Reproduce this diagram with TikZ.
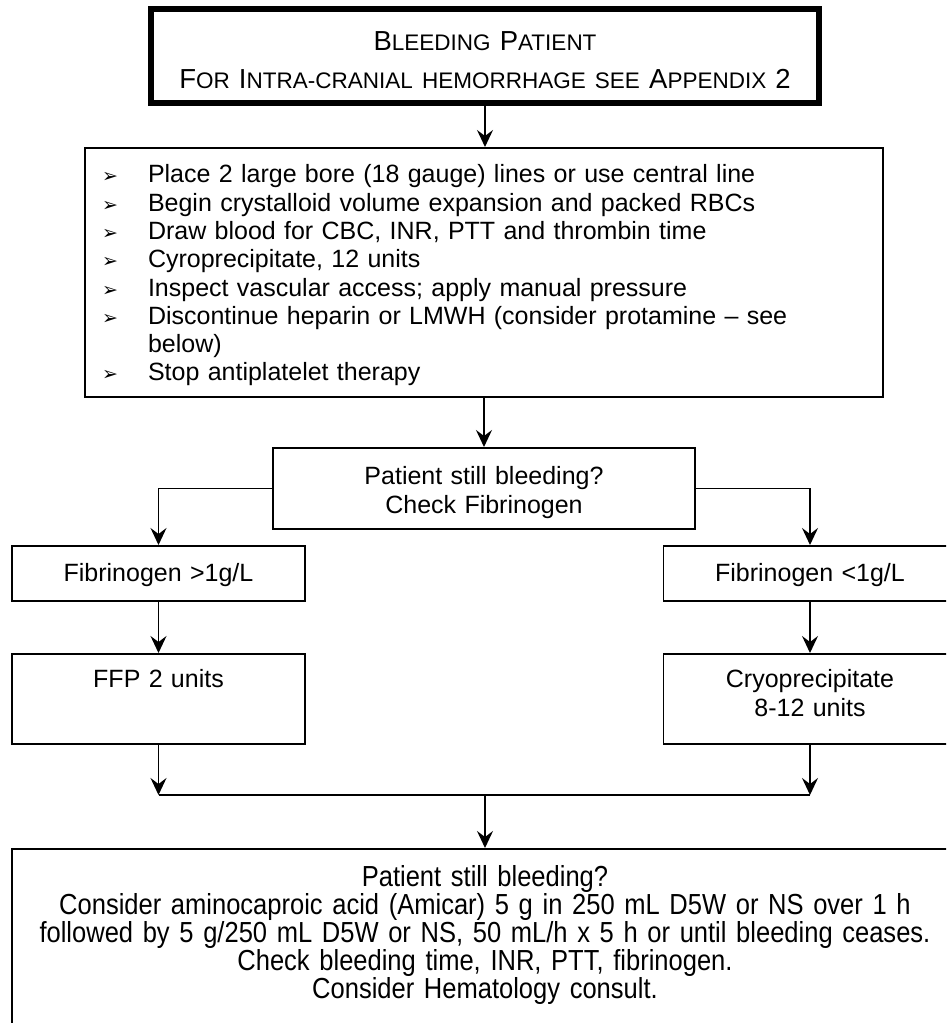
\documentclass[tikz,border=0pt]{standalone}
\usepackage{fontspec}
\setmainfont{Liberation Sans}
\newfontfamily\narrowsans[FakeStretch=0.88]{Liberation Sans}
\newfontfamily\dingfont{DejaVu Sans}
\usetikzlibrary{arrows.meta}
\lineskiplimit=-8pt
\newcommand{\smcap}[1]{{\fontsize{22.5}{24}\selectfont #1}}
\newcommand{\itm}{\makebox[63pt][l]{\hspace*{17pt}{\dingfont\fontsize{19}{19}\selectfont ➢}}}

\begin{document}
\begin{tikzpicture}[x=1pt,y=-1pt,
  box/.style={draw,line width=1.6pt,inner sep=0pt,anchor=north,align=center,font=\fontsize{25}{28.3}\selectfont},
  arr/.style={line width=1.3pt,-{Stealth[length=17pt,width=16pt,inset=6pt]}}]
  \useasboundingbox (0,0) rectangle (946,1023);
  \clip (0,0) rectangle (946,1023);
  \node[box,line width=5.5pt,text width=668pt,text height=42pt,text depth=52pt,font=\fontsize{27.5}{38}\selectfont] (start) at (485,6)
    {B\smcap{LEEDING} P\smcap{ATIENT}\\F\smcap{OR} I\smcap{NTRA-CRANIAL HEMORRHAGE SEE} A\smcap{PPENDIX} 2};
  \node[box,align=left,text width=798pt,text height=35pt,text depth=214pt] (list) at (484,147)
    {\itm Place 2 large bore (18 gauge) lines or use central line\\
     \itm Begin crystalloid volume expansion and packed RBCs\\
     \itm Draw blood for CBC, INR, PTT and thrombin time\\
     \itm Cyroprecipitate, 12 units\\
     \itm Inspect vascular access; apply manual pressure\\
     \itm Discontinue heparin or LMWH (consider protamine – see\\
     \hspace*{63pt}below)\\
     \itm Stop antiplatelet therapy};
  \node[box,text width=422pt,text height=37pt,text depth=44pt] (check) at (484,447)
    {Patient still bleeding?\\Check Fibrinogen};
  \node[box,text width=293pt,text height=36pt,text depth=19pt] (fibhi) at (158.5,545) {Fibrinogen >1g/L};
  \node[box,text width=293pt,text height=36pt,text depth=19pt] (fiblo) at (810,545) {Fibrinogen <1g/L};
  \node[box,text width=293pt,text height=34pt,text depth=56pt] (ffp) at (158.5,653) {FFP 2 units};
  \node[box,text width=293pt,text height=34pt,text depth=56pt] (cryo) at (810,653) {Cryoprecipitate\\8-12 units};
  \node[box,text width=946pt,text height=38pt,text depth=200pt,font=\narrowsans\fontsize{29}{27}\selectfont] (final) at (485,848)
    {Patient still bleeding?\\
     Consider aminocaproic acid (Amicar) 5 g in 250 mL D5W or NS over 1 h\\
     followed by 5 g/250 mL D5W or NS, 50 mL/h x 5 h or until bleeding ceases.\\
     Check bleeding time, INR, PTT, fibrinogen.\\
     Consider Hematology consult.};
  \coordinate (joinL) at (158.5,795);
  \coordinate (joinR) at (810,795);
  \coordinate (join) at (485,795);
  \draw[arr] (start.south) -- (start.south |- list.north);
  \draw[arr] (list.south) -- (check.north);
  \draw[arr] (check.west) -| (fibhi.north);
  \draw[arr] (check.east) -| (fiblo.north);
  \draw[arr] (fibhi) -- (ffp);
  \draw[arr] (fiblo) -- (cryo);
  \draw[arr] (ffp) -- (joinL);
  \draw[arr] (cryo) -- (joinR);
  \draw[line width=1.3pt] (joinL) -- (joinR);
  \draw[arr] (join) -- (final.north);
\end{tikzpicture}
\end{document}
